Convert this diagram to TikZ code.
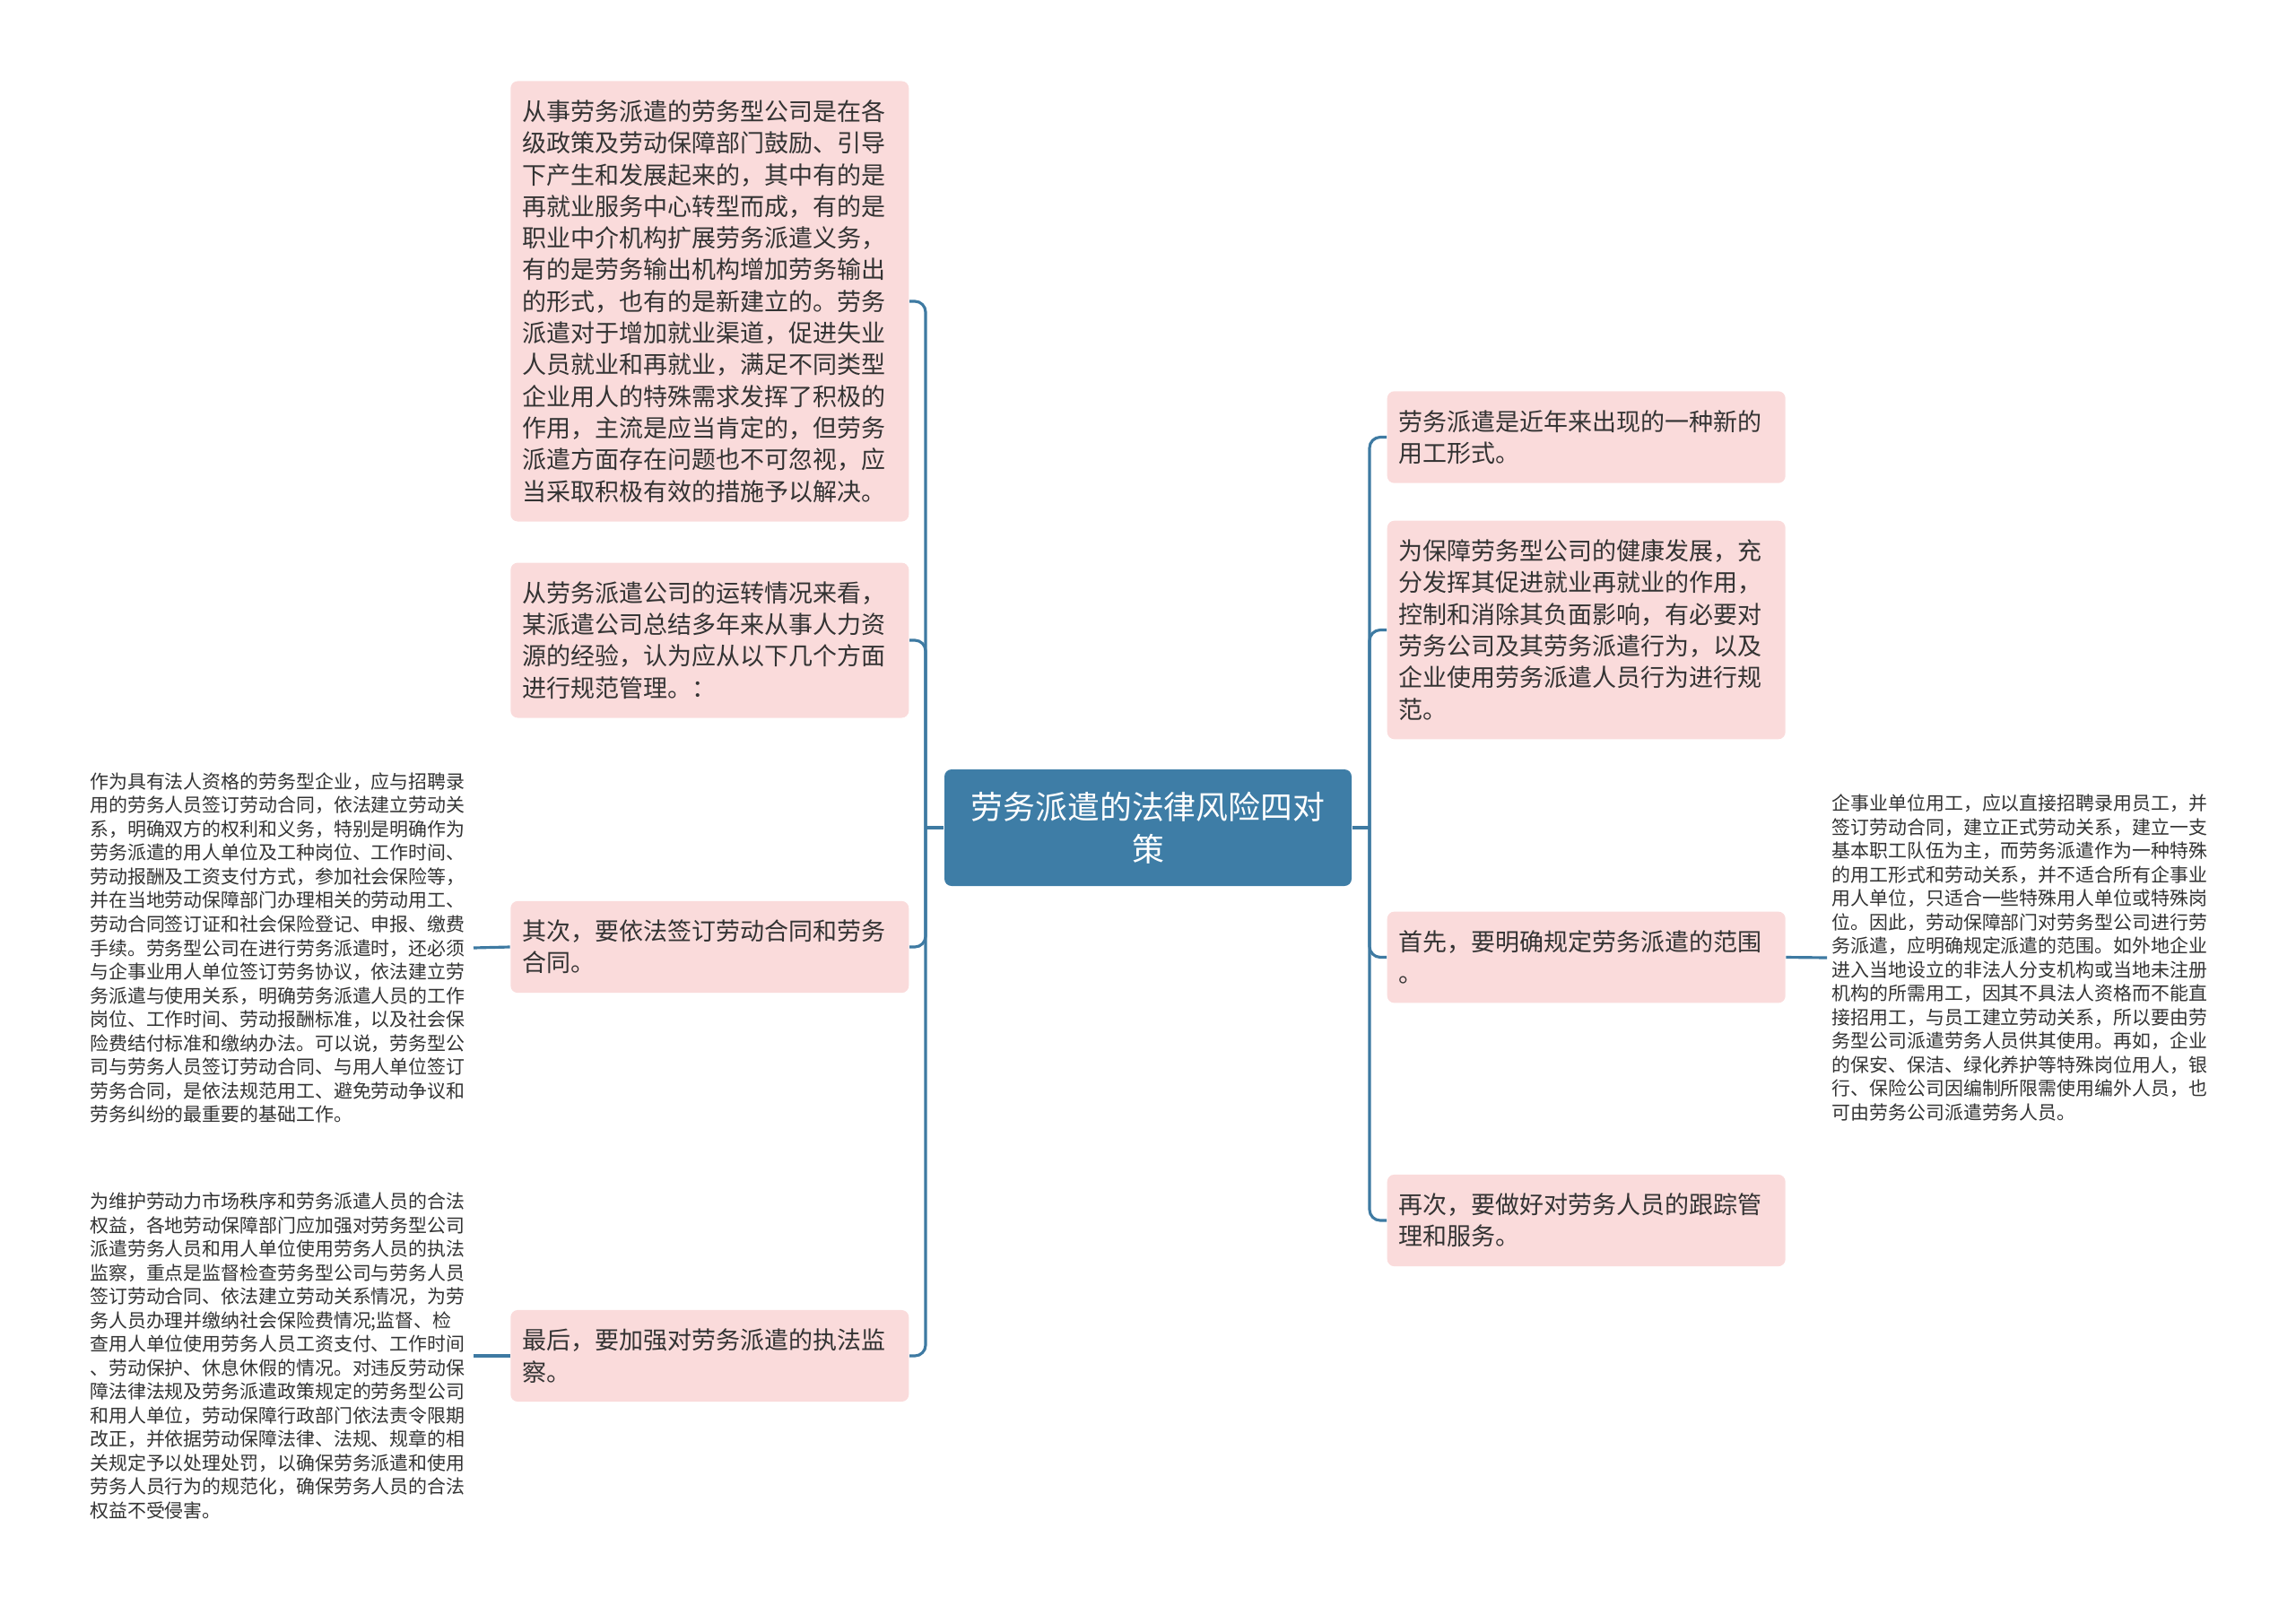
\documentclass[tikz,border=0pt]{standalone}
\usepackage{fontspec}
\setmainfont{Noto Sans CJK SC}
\definecolor{root}{HTML}{3E7DA6}
\definecolor{topic}{HTML}{FADBDB}
\definecolor{link}{HTML}{3E7AA2}
\definecolor{ink}{HTML}{333333}
\tikzset{root/.style={text=white,fill=root,rounded corners=0.08cm,minimum width=4.54cm,minimum height=1.3cm,align=center,font=\fontsize{10.2pt}{13.5pt}\selectfont}}
\tikzset{topic/.style={text=ink,fill=topic,rounded corners=0.08cm,text width=4.18cm,inner xsep=0.13cm,inner ysep=0.21cm,align=left,font=\fontsize{7.68pt}{10.05pt}\selectfont}}
\tikzset{leaf/.style={text=ink,text width=4.22cm,inner sep=0.05cm,align=left,font=\fontsize{5.95pt}{7.55pt}\selectfont}}
\tikzset{link/.style={draw=link,line width=0.9pt}}

\begin{document}
\begin{tikzpicture}
            \useasboundingbox (0,0) rectangle (25.6,-18.01);

            \node[root] (root) at (12.8,-9.23) {劳务派遣的法律风险四对\\策};
            \coordinate (ljoin) at (10.32,-9.23);
            \coordinate (rjoin) at (15.27,-9.23);

            \node[topic,anchor=east] (origin) at (10.14,-3.36) {从事劳务派遣的劳务型公司是在各\\级政策及劳动保障部门鼓励、引导\\下产生和发展起来的，其中有的是\\再就业服务中心转型而成，有的是\\职业中介机构扩展劳务派遣义务，\\有的是劳务输出机构增加劳务输出\\的形式，也有的是新建立的。劳务\\派遣对于增加就业渠道，促进失业\\人员就业和再就业，满足不同类型\\企业用人的特殊需求发挥了积极的\\作用，主流是应当肯定的，但劳务\\派遣方面存在问题也不可忽视，应\\当采取积极有效的措施予以解决。};
            \node[topic,anchor=east] (advice) at (10.14,-7.14) {从劳务派遣公司的运转情况来看，\\某派遣公司总结多年来从事人力资\\源的经验，认为应从以下几个方面\\进行规范管理。：};
            \node[topic,anchor=east] (second) at (10.14,-10.56) {其次，要依法签订劳动合同和劳务\\合同。};
            \node[topic,anchor=east] (last) at (10.14,-15.12) {最后，要加强对劳务派遣的执法监\\察。};

            \node[topic,anchor=west] (newform) at (15.46,-4.875) {劳务派遣是近年来出现的一种新的\\用工形式。};
            \node[topic,anchor=west] (regulate) at (15.46,-7.025) {为保障劳务型公司的健康发展，充\\分发挥其促进就业再就业的作用，\\控制和消除其负面影响，有必要对\\劳务公司及其劳务派遣行为，以及\\企业使用劳务派遣人员行为进行规\\范。};
            \node[topic,anchor=west] (first) at (15.46,-10.675) {首先，要明确规定劳务派遣的范围\\。};
            \node[topic,anchor=west] (third) at (15.46,-13.61) {再次，要做好对劳务人员的跟踪管\\理和服务。};

            \node[leaf,anchor=east] (secondnote) at (5.28,-10.57) {作为具有法人资格的劳务型企业，应与招聘录\\用的劳务人员签订劳动合同，依法建立劳动关\\系，明确双方的权利和义务，特别是明确作为\\劳务派遣的用人单位及工种岗位、工作时间、\\劳动报酬及工资支付方式，参加社会保险等，\\并在当地劳动保障部门办理相关的劳动用工、\\劳动合同签订证和社会保险登记、申报、缴费\\手续。劳务型公司在进行劳务派遣时，还必须\\与企事业用人单位签订劳务协议，依法建立劳\\务派遣与使用关系，明确劳务派遣人员的工作\\岗位、工作时间、劳动报酬标准，以及社会保\\险费结付标准和缴纳办法。可以说，劳务型公\\司与劳务人员签订劳动合同、与用人单位签订\\劳务合同，是依法规范用工、避免劳动争议和\\劳务纠纷的最重要的基础工作。};
            \node[leaf,anchor=east] (lastnote) at (5.28,-15.12) {为维护劳动力市场秩序和劳务派遣人员的合法\\权益，各地劳动保障部门应加强对劳务型公司\\派遣劳务人员和用人单位使用劳务人员的执法\\监察，重点是监督检查劳务型公司与劳务人员\\签订劳动合同、依法建立劳动关系情况，为劳\\务人员办理并缴纳社会保险费情况;监督、检\\查用人单位使用劳务人员工资支付、工作时间\\、劳动保护、休息休假的情况。对违反劳动保\\障法律法规及劳务派遣政策规定的劳务型公司\\和用人单位，劳动保障行政部门依法责令限期\\改正，并依据劳动保障法律、法规、规章的相\\关规定予以处理处罚，以确保劳务派遣和使用\\劳务人员行为的规范化，确保劳务人员的合法\\权益不受侵害。};
            \node[leaf,anchor=west] (firstnote) at (20.37,-10.68) {企事业单位用工，应以直接招聘录用员工，并\\签订劳动合同，建立正式劳动关系，建立一支\\基本职工队伍为主，而劳务派遣作为一种特殊\\的用工形式和劳动关系，并不适合所有企事业\\用人单位，只适合一些特殊用人单位或特殊岗\\位。因此，劳动保障部门对劳务型公司进行劳\\务派遣，应明确规定派遣的范围。如外地企业\\进入当地设立的非法人分支机构或当地未注册\\机构的所需用工，因其不具法人资格而不能直\\接招用工，与员工建立劳动关系，所以要由劳\\务型公司派遣劳务人员供其使用。再如，企业\\的保安、保洁、绿化养护等特殊岗位用人，银\\行、保险公司因编制所限需使用编外人员，也\\可由劳务公司派遣劳务人员。};

            \draw[link] (root.west) -- (ljoin);
            \draw[link] (root.east) -- (rjoin);
            \foreach \n in {origin,advice,second,last}
                \draw[link,rounded corners=0.12cm] (ljoin) |- (\n.east);
            \foreach \n in {newform,regulate,first,third}
                \draw[link,rounded corners=0.12cm] (rjoin) |- (\n.west);
            \draw[link] (second.west) -- (secondnote.east);
            \draw[link] (last.west) -- (lastnote.east);
            \draw[link] (first.east) -- (firstnote.west);
            \end{tikzpicture}
\end{document}
